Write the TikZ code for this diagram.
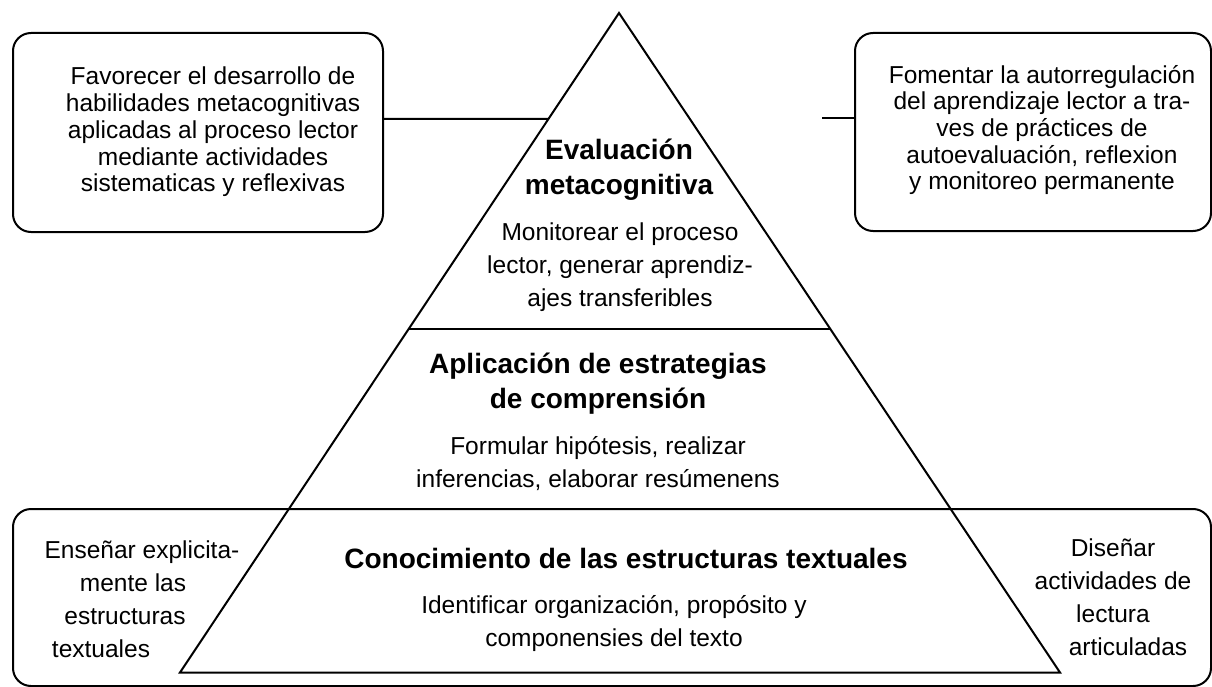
\documentclass[tikz,border=0pt]{standalone}
\usepackage{fontspec}
\setmainfont{Liberation Sans}
\usetikzlibrary{calc}
\tikzset{
  frame/.style={draw, line width=2pt, rounded corners=18pt, inner sep=0pt},
  edge/.style={line width=2pt},
  body/.style={font=\fontsize{24.5}{33}\selectfont, align=center, inner sep=0pt},
  boxtext/.style={font=\fontsize{24.5}{26.7}\selectfont, align=center, inner sep=0pt},
  title/.style={font=\fontsize{28}{35}\selectfont\bfseries, align=center, inner sep=0pt}
}
\begin{document}
\begin{tikzpicture}[x=1pt,y=-1pt]
\useasboundingbox (0,0) rectangle (1212,687);
% boxes
\node[frame, minimum width=370pt, minimum height=199pt] (tl) at (198,132.5) {};
\node[frame, minimum width=356pt, minimum height=198pt] (tr) at (1033,132) {};
\node[frame, minimum width=1198pt, minimum height=177pt] (bot) at (612,597.5) {};
% pyramid
\coordinate (A) at (619,13);
\coordinate (BL) at (180,672.5);
\coordinate (BR) at (1060,672.5);
\draw[edge] (A) -- (BL) -- (BR) -- cycle;
\coordinate (ML) at ($(A)!0.4791!(BL)$);
\coordinate (MR) at ($(A)!0.4791!(BR)$);
\draw[edge] (ML) -- (MR);
% connectors
\coordinate (tlj) at ($(A)!0.1607!(BL)$);
\draw[edge] ([yshift=13.5pt]tl.east) -- (tlj);
\coordinate (trl) at (822,118);
\draw[edge] (trl) -- ([yshift=14pt]tr.west);
% texts
\node[boxtext] (tlt) at (213,132) {Favorecer el desarrollo de\\habilidades metacognitivas\\aplicadas al proceso lector\\mediante actividades\\sistematicas y reflexivas};
\node[boxtext] (trt) at (1042,130) {Fomentar la autorregulación\\del aprendizaje lector a tra-\\ves de práctices de\\autoevaluación, reflexion\\y monitoreo permanente};
\node[title] (t1) at (619,170) {Evaluación\\metacognitiva};
\node[body] (d1) at (620,267) {Monitorear el proceso\\lector, generar aprendiz-\\ajes transferibles};
\node[title] (t2) at (598,384) {Aplicación de estrategias\\de comprensión};
\node[body] (d2) at (598,464) {Formular hipótesis, realizar\\inferencias, elaborar resúmenens};
\node[title] (t3) at (626,558) {Conocimiento de las estructuras textuales};
\node[body] (d3) at (614,623.5) {Identificar organización, propósito y\\componensies del texto};
\node[body] (bl) at (125,599) {\kern34pt Enseñar explicita-\\\kern16pt mente las\\estructuras\\textuales\kern48pt};
\node[body] (br) at (1113,597) {Diseñar\\actividades de\\lectura\\\kern30pt articuladas};
\end{tikzpicture}
\end{document}
